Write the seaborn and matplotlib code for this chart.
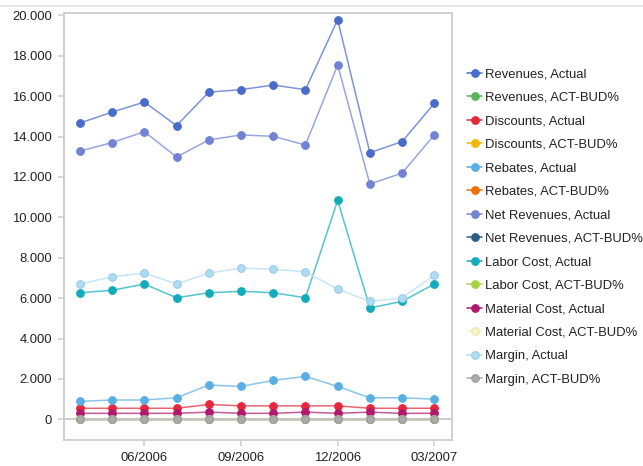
import matplotlib
matplotlib.use("Agg")
import matplotlib.pyplot as plt
from matplotlib.lines import Line2D
from matplotlib.ticker import FuncFormatter
from matplotlib.colors import to_rgba, to_rgb
import seaborn as sns
import pandas as pd

months = ["04/2006", "05/2006", "06/2006", "07/2006", "08/2006", "09/2006",
          "10/2006", "11/2006", "12/2006", "01/2007", "02/2007", "03/2007"]
tick_labels = ["06/2006", "09/2006", "12/2006", "03/2007"]

revenues_actual = [14670, 15210, 15710, 14540, 16200, 16320, 16550, 16320, 19780, 13200, 13750, 15640]
revenues_actbud = [0.02, 0.03, 0.01, -0.02, 0.04, 0.03, 0.02, 0.01, 0.05, -0.03, -0.01, 0.02]
discounts_actual = [550, 550, 550, 550, 740, 670, 670, 670, 670, 550, 550, 550]
discounts_actbud = [0.01, 0.01, 0.00, 0.01, 0.02, 0.01, 0.01, 0.01, 0.01, 0.00, 0.00, 0.01]
rebates_actual = [890, 960, 960, 1070, 1700, 1630, 1930, 2130, 1630, 1070, 1070, 1000]
rebates_actbud = [0.01, 0.02, 0.01, 0.02, 0.03, 0.02, 0.03, 0.04, 0.02, 0.01, 0.01, 0.01]
netrev_actual = [13280, 13700, 14240, 12990, 13830, 14080, 14010, 13580, 17540, 11650, 12190, 14080]
netrev_actbud = [0.02, 0.02, 0.01, -0.02, 0.03, 0.03, 0.02, 0.00, 0.05, -0.04, -0.02, 0.02]
labor_actual = [6270, 6390, 6700, 6020, 6270, 6340, 6270, 6020, 10840, 5520, 5840, 6700]
labor_actbud = [0.01, 0.01, 0.02, -0.01, 0.01, 0.01, 0.01, -0.01, 0.08, -0.02, -0.01, 0.02]
material_actual = [300, 300, 300, 300, 360, 300, 300, 360, 300, 360, 300, 300]
material_actbud = [0.00, 0.00, 0.00, 0.00, 0.01, 0.00, 0.00, 0.01, 0.00, 0.01, 0.00, 0.00]
margin_actual = [6700, 7060, 7240, 6700, 7240, 7490, 7430, 7310, 6450, 5840, 6020, 7130]
margin_actbud = [0.01, 0.02, 0.02, 0.01, 0.02, 0.03, 0.02, 0.02, 0.01, -0.01, 0.00, 0.02]

series_names = [
    "Revenues, Actual", "Revenues, ACT-BUD%",
    "Discounts, Actual", "Discounts, ACT-BUD%",
    "Rebates, Actual", "Rebates, ACT-BUD%",
    "Net Revenues, Actual", "Net Revenues, ACT-BUD%",
    "Labor Cost, Actual", "Labor Cost, ACT-BUD%",
    "Material Cost, Actual", "Material Cost, ACT-BUD%",
    "Margin, Actual", "Margin, ACT-BUD%",
]
series_values = [
    revenues_actual, revenues_actbud, discounts_actual, discounts_actbud,
    rebates_actual, rebates_actbud, netrev_actual, netrev_actbud,
    labor_actual, labor_actbud, material_actual, material_actbud,
    margin_actual, margin_actbud,
]
colors = [
    "#4A6CC9", "#57B55A", "#E5283C", "#F2B705", "#5AAEE3", "#EE6F0B",
    "#7282D5", "#2E5A88", "#14ACBA", "#A6D343", "#B0196E", "#F8F5C8",
    "#AEDCF3", "#ABABAB",
]
edge_colors = [
    "#4A6CC9", "#57B55A", "#E5283C", "#F2B705", "#5AAEE3", "#EE6F0B",
    "#7282D5", "#2E5A88", "#14ACBA", "#A6D343", "#B0196E", "#EDE6A8",
    "#9CCBE6", "#9A9A9A",
]


def lighten(c, f=0.28):
    r, g, b = to_rgb(c)
    return (r + (1 - r) * f, g + (1 - g) * f, b + (1 - b) * f)


rows = []
for name, vals in zip(series_names, series_values):
    for i, (m, v) in enumerate(zip(months, vals)):
        rows.append({"idx": i, "month": m, "series": name, "value": v})
df = pd.DataFrame(rows)

sns.set_style("white")
plt.rcParams["font.family"] = ["Liberation Sans", "DejaVu Sans"]

fig = plt.figure(figsize=(6.43, 4.66), dpi=100)
ax = fig.add_axes([63.5 / 643, 1 - 440 / 466, (452 - 63.5) / 643, (440 - 12.7) / 466])

ax.axhline(0, color="#C4C4C4", lw=1.2, zorder=1)

handles = []
n = len(series_names)
for k, (name, col, ec) in enumerate(zip(series_names, colors, edge_colors)):
    sub = df[df["series"] == name]
    sns.lineplot(data=sub, x="idx", y="value", ax=ax, color=col, marker="o",
                 markersize=5.5, linewidth=1.6 if k == n - 1 else 1.1,
                 legend=False, zorder=3)
    ln = ax.lines[-1]
    ln.set_color(lighten(col))
    ln.set_markerfacecolor(to_rgba(col, 1.0))
    ln.set_markeredgecolor(to_rgba(ec, 1.0))
    ln.set_markeredgewidth(0.8)
    handles.append(Line2D([0], [0], color=col, lw=1.1, marker="o", markersize=5.5,
                          markerfacecolor=col, markeredgecolor=ec, markeredgewidth=0.8))

ax.set_xlim(-0.51, 11.55)
ax.set_ylim(-1020, 20130)
ax.set_yticks(range(0, 20001, 2000))
ax.yaxis.set_major_formatter(FuncFormatter(lambda v, p: f"{int(v):,}".replace(",", ".")))
ax.set_xticks([months.index(t) for t in tick_labels])
ax.set_xticklabels(tick_labels)
ax.set_xlabel("")
ax.set_ylabel("")
ax.grid(False)

for sp in ax.spines.values():
    sp.set_visible(True)
    sp.set_color("#CFCFCF")
    sp.set_linewidth(1.4)

ax.tick_params(axis="both", which="major", labelsize=9.4, colors="#CFCFCF",
               labelcolor="#222222", length=4.3, width=1.2, direction="out")
ax.tick_params(axis="y", pad=4)
ax.tick_params(axis="x", pad=4)
ax.tick_params(left=True, bottom=True)

leg = fig.legend(handles, series_names, loc="upper left",
                 bbox_to_anchor=(467 / 643, 1 - 68 / 466), frameon=False,
                 fontsize=9.4, handlelength=1.15, handletextpad=0.2,
                 labelspacing=0.87, borderaxespad=0, borderpad=0)
for t in leg.get_texts():
    t.set_color("#222222")

fig.add_artist(Line2D([0, 1], [1 - 5.5 / 466, 1 - 5.5 / 466], transform=fig.transFigure,
                      color="#E2E2E2", lw=1.2))

fig.savefig("out.png", dpi=100)
